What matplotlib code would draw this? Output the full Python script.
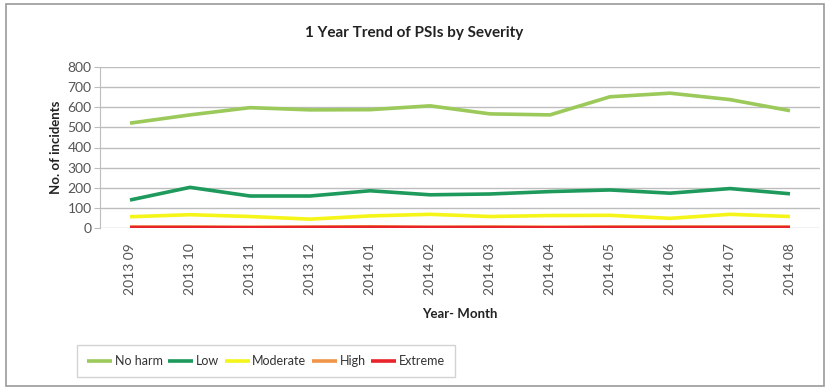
import matplotlib
matplotlib.use("Agg")
import matplotlib.pyplot as plt
from matplotlib.patches import Rectangle

plt.rcParams['font.family'] = ['Lato', 'DejaVu Sans']

months = ["2013 09", "2013 10", "2013 11", "2013 12", "2014 01", "2014 02",
          "2014 03", "2014 04", "2014 05", "2014 06", "2014 07", "2014 08"]
no_harm = [521, 562, 598, 587, 588, 607, 567, 562, 652, 670, 638, 583]
low = [139, 202, 159, 159, 185, 165, 169, 181, 189, 173, 196, 170]
moderate = [56, 66, 57, 44, 60, 68, 57, 62, 63, 48, 68, 57]
high = [5, 5, 4, 5, 6, 4, 5, 4, 5, 5, 5, 5]
extreme = [2, 2, 1, 2, 3, 2, 2, 1, 2, 2, 2, 2]

series = [
    ("No harm", no_harm, "#9BC95A"),
    ("Low", low, "#1E9A5C"),
    ("Moderate", moderate, "#F5F51A"),
    ("High", high, "#F0954A"),
    ("Extreme", extreme, "#E8232A"),
]

W, H = 829, 388
fig = plt.figure(figsize=(W / 100, H / 100), dpi=100)
fig.patch.set_facecolor("white")

# outer chart frame
fig.patches.append(Rectangle((6 / W, 2 / H), 818 / W, 382 / H, transform=fig.transFigure,
                             fill=False, edgecolor="#9A9A9A", linewidth=1.2))

ax = fig.add_axes([100 / W, 1 - 228 / H, 720 / W, 161 / H])
x = list(range(len(months)))
for name, vals, col in series:
    ax.plot(x, vals, color=col, linewidth=2.6, label=name, solid_capstyle="butt")

ax.set_xlim(-0.5, len(months) - 0.5)
ax.set_ylim(0, 800)
ax.set_yticks(range(0, 801, 100))
ax.yaxis.grid(True, color="#BDBDBD", linewidth=1.0)
ax.set_axisbelow(True)
for s in ["top", "right", "bottom"]:
    ax.spines[s].set_visible(False)
ax.spines["left"].set_color("#BDBDBD")
ax.tick_params(axis="y", length=4, color="#BDBDBD", labelsize=10, labelcolor="#555555", pad=2)
ax.tick_params(axis="x", length=0, labelsize=10, labelcolor="#555555", pad=11)
ax.set_xticks(x)
ax.set_xticklabels(months, rotation=90)

ax.set_xlabel("Year- Month", fontsize=9.5, fontweight="bold", color="#222222", labelpad=9)
ax.set_ylabel("No. of incidents", fontsize=9.5, fontweight="bold", color="#222222", labelpad=4)

fig.text(0.5, 1 - 33 / H, "1 Year Trend of PSIs by Severity", ha="center", va="center",
         fontsize=11, fontweight="bold", color="#222222")

leg = fig.legend(loc="center", bbox_to_anchor=(266 / W, 1 - 361 / H), ncol=5,
                 frameon=True, fontsize=9, handlelength=2.0, handletextpad=0.2,
                 columnspacing=0.45, borderpad=0.8, fancybox=False)
leg.get_frame().set_edgecolor("#C8C8C8")
leg.get_frame().set_linewidth(1.0)
for t in leg.get_texts():
    t.set_color("#333333")

fig.savefig("out.png", dpi=100)
